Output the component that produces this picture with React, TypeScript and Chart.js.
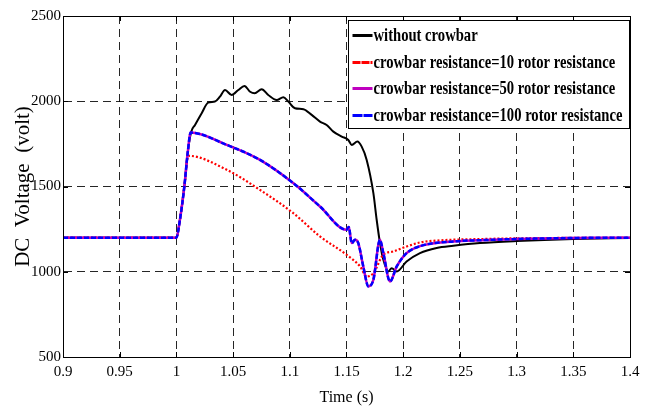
import React, { useEffect, useRef } from 'react';
import { Chart, registerables } from 'chart.js';

Chart.register(...registerables);

// ---- data ----
const seriesNames = [
  'without crowbar',
  'crowbar resistance=10 rotor resistance',
  'crowbar resistance=50 rotor resistance',
  'crowbar resistance=100 rotor resistance',
];

const tBlack = [0.9, 1.0, 1.003, 1.007, 1.010, 1.013, 1.0164, 1.0223, 1.028, 1.034, 1.0384, 1.0429, 1.0487, 1.0546, 1.06, 1.065, 1.069, 1.0752, 1.081, 1.0884, 1.0943, 1.0987, 1.1046, 1.112, 1.1193, 1.1266, 1.1325, 1.1384, 1.1458, 1.1516, 1.1546, 1.1596, 1.1634, 1.1678, 1.1737, 1.1766, 1.1795, 1.1825, 1.1869, 1.1898, 1.1943, 1.203, 1.2148, 1.2295, 1.2442, 1.2677, 1.3, 1.35, 1.4];
const vBlack = [1200, 1200, 1300, 1500, 1700, 1820, 1861, 1930, 1992, 1998, 2027, 2066, 2037, 2066, 2090, 2056, 2047, 2070, 2037, 2008, 2024, 1998, 1959, 1953, 1920, 1881, 1861, 1822, 1793, 1773, 1744, 1764, 1734, 1656, 1461, 1305, 1170, 1070, 1002, 1021, 1002, 1060, 1109, 1139, 1152, 1168, 1180, 1192, 1198];

const tRed = [0.9, 1.0, 1.003, 1.007, 1.0105, 1.0444, 1.0737, 1.103, 1.1266, 1.15, 1.162, 1.1678, 1.1737, 1.1825, 1.1913, 1.203, 1.2148, 1.2295, 1.27, 1.3, 1.4];
const vRed = [1200, 1200, 1300, 1500, 1680, 1598, 1480, 1344, 1207, 1100, 1031, 972, 992, 1100, 1119, 1148, 1172, 1183, 1192, 1196, 1200];

const tPurple = [0.9, 1.0, 1.003, 1.007, 1.010, 1.0126, 1.0444, 1.0737, 1.103, 1.1266, 1.15, 1.152, 1.1546, 1.1575, 1.1604, 1.1648, 1.1693, 1.1737, 1.1795, 1.1825, 1.1884, 1.1943, 1.203, 1.2148, 1.2442, 1.2677, 1.3, 1.35, 1.4];
const vPurple = [1200, 1200, 1300, 1500, 1700, 1816, 1744, 1656, 1520, 1383, 1246, 1262, 1168, 1187, 1168, 1031, 914, 953, 1187, 1109, 943, 1031, 1109, 1150, 1178, 1185, 1192, 1198, 1200];

const tBlue = [0.9, 1.0, 1.003, 1.007, 1.010, 1.0126, 1.0444, 1.0737, 1.103, 1.1266, 1.15, 1.152, 1.1546, 1.1575, 1.1604, 1.1648, 1.1693, 1.1737, 1.1795, 1.1825, 1.1884, 1.1943, 1.203, 1.2148, 1.2442, 1.2677, 1.3, 1.35, 1.4];
const vBlue = [1200, 1200, 1300, 1500, 1700, 1816, 1744, 1656, 1520, 1383, 1246, 1262, 1168, 1187, 1168, 1031, 914, 953, 1187, 1109, 943, 1031, 1109, 1150, 1178, 1185, 1192, 1198, 1200];

const xTicks = [0.9, 0.95, 1, 1.05, 1.1, 1.15, 1.2, 1.25, 1.3, 1.35, 1.4];
const xTickLabels = ['0.9', '0.95', '1', '1.05', '1.1', '1.15', '1.2', '1.25', '1.3', '1.35', '1.4'];
const yTicks = [500, 1000, 1500, 2000, 2500];
const yTickLabels = ['500', '1000', '1500', '2000', '2500'];

const xTitle = 'Time (s)';
const yTitle = 'DC  Voltage  (volt)';

function pts(t: number[], v: number[]) {
  return t.map((x, i) => ({ x, y: v[i] }));
}

const FONT = '"Liberation Serif", "Times New Roman", serif';

const framePlugin = {
  id: 'frameLegend',
  afterDraw(chart: any) {
    const { ctx, chartArea: a, scales } = chart;
    const xs = scales.x;
    const ys = scales.y;
    ctx.save();
    ctx.strokeStyle = '#000';
    ctx.lineWidth = 1;
    ctx.setLineDash([]);
    ctx.strokeRect(Math.round(a.left) + 0.5, Math.round(a.top) + 0.5, Math.round(a.right - a.left), Math.round(a.bottom - a.top));
    ctx.beginPath();
    xTicks.forEach((t) => {
      const px = Math.round(xs.getPixelForValue(t)) + 0.5;
      ctx.moveTo(px, a.bottom);
      ctx.lineTo(px, a.bottom - 5);
      ctx.moveTo(px, a.top);
      ctx.lineTo(px, a.top + 5);
    });
    yTicks.forEach((v) => {
      const py = Math.round(ys.getPixelForValue(v)) + 0.5;
      ctx.moveTo(a.left, py);
      ctx.lineTo(a.left + 5, py);
      ctx.moveTo(a.right, py);
      ctx.lineTo(a.right - 5, py);
    });
    ctx.stroke();

    // legend box
    const lw = 281;
    const lh = 108;
    const lx = Math.round(a.right) - lw - 1 + 0.5;
    const ly = Math.round(a.top) + 4 + 0.5;
    ctx.fillStyle = '#fff';
    ctx.fillRect(lx, ly, lw, lh);
    ctx.strokeStyle = '#000';
    ctx.lineWidth = 1;
    ctx.strokeRect(lx, ly, lw, lh);
    const rows = [15, 42, 68, 95];
    chart.data.datasets.forEach((ds: any, i: number) => {
      const ry = ly + rows[i];
      ctx.save();
      ctx.strokeStyle = ds.borderColor;
      ctx.lineWidth = 3;
      ctx.setLineDash(i === 1 ? [8, 1] : i === 3 ? [10, 1] : []);
      ctx.beginPath();
      ctx.moveTo(lx + 4, ry);
      ctx.lineTo(lx + 24, ry);
      ctx.stroke();
      ctx.restore();
      ctx.save();
      ctx.fillStyle = '#000';
      ctx.font = 'bold 19px ' + FONT;
      ctx.textBaseline = 'middle';
      ctx.textAlign = 'left';
      ctx.translate(lx + 25, ry + 1);
      ctx.scale(0.77, 1);
      ctx.fillText(ds.label, 0, 0);
      ctx.restore();
    });
    ctx.restore();
  },
};

export default function App() {
  const ref = useRef<HTMLCanvasElement | null>(null);

  useEffect(() => {
    document.body.style.margin = '0';
    const canvas = ref.current;
    if (!canvas) return;
    const gridColor = 'rgba(0,0,0,0.85)';
    const chart = new Chart(canvas, {
      type: 'line',
      data: {
        datasets: [
          {
            label: seriesNames[0],
            data: pts(tBlack, vBlack),
            borderColor: '#000000',
            borderWidth: 2,
            pointRadius: 0,
            cubicInterpolationMode: 'monotone',
            order: 3,
          },
          {
            label: seriesNames[1],
            data: pts(tRed, vRed),
            borderColor: '#ff0000',
            borderWidth: 2.2,
            borderDash: [2, 2],
            pointRadius: 0,
            cubicInterpolationMode: 'monotone',
            order: 2,
          },
          {
            label: seriesNames[2],
            data: pts(tPurple, vPurple),
            borderColor: '#bf00bf',
            borderWidth: 2.5,
            pointRadius: 0,
            cubicInterpolationMode: 'monotone',
            order: 1,
          },
          {
            label: seriesNames[3],
            data: pts(tBlue, vBlue),
            borderColor: '#0000ff',
            borderWidth: 2.5,
            borderDash: [5, 2],
            pointRadius: 0,
            cubicInterpolationMode: 'monotone',
            order: 0,
          },
        ],
      },
      options: {
        responsive: false,
        animation: false,
        parsing: false as any,
        layout: { padding: { left: 0, top: 16, right: 23, bottom: 0 } },
        plugins: {
          legend: { display: false },
          tooltip: { enabled: false },
        },
        scales: {
          x: {
            type: 'linear',
            min: 0.9,
            max: 1.4,
            afterFit: (s: any) => {
              s.height = 51;
            },
            afterBuildTicks: (s: any) => {
              s.ticks = xTicks.map((v) => ({ value: v }));
            },
            ticks: {
              color: '#000',
              font: { family: FONT, size: 15 },
              padding: 6,
              maxRotation: 0,
              autoSkip: false,
              callback: (v: any) => {
                const i = xTicks.findIndex((t) => Math.abs(t - Number(v)) < 1e-6);
                return i >= 0 ? xTickLabels[i] : '';
              },
            },
            grid: { color: gridColor, lineWidth: 1, drawTicks: false },
            border: { display: true, color: '#000', dash: [8, 5] },
            title: {
              display: true,
              text: xTitle,
              color: '#000',
              font: { family: FONT, size: 16 },
              padding: { top: 0, bottom: 1 },
            },
          },
          y: {
            type: 'linear',
            min: 500,
            max: 2500,
            afterFit: (s: any) => {
              s.width = 63;
            },
            afterBuildTicks: (s: any) => {
              s.ticks = yTicks.map((v) => ({ value: v }));
            },
            ticks: {
              color: '#000',
              font: { family: FONT, size: 15 },
              padding: 2,
              autoSkip: false,
              callback: (v: any) => {
                const i = yTicks.indexOf(Number(v));
                return i >= 0 ? yTickLabels[i] : '';
              },
            },
            grid: { color: gridColor, lineWidth: 1, drawTicks: false },
            border: { display: true, color: '#000', dash: [8, 5] },
            title: {
              display: true,
              text: yTitle,
              color: '#000',
              font: { family: FONT, size: 21 },
              padding: { top: 11, bottom: 0 },
            },
          },
        },
      },
      plugins: [framePlugin],
    } as any);
    return () => chart.destroy();
  }, []);

  return (
    <div style={{ width: 653, height: 408 }}>
      <canvas ref={ref} width={653} height={408} style={{ width: 653, height: 408, display: 'block' }} />
    </div>
  );
}
